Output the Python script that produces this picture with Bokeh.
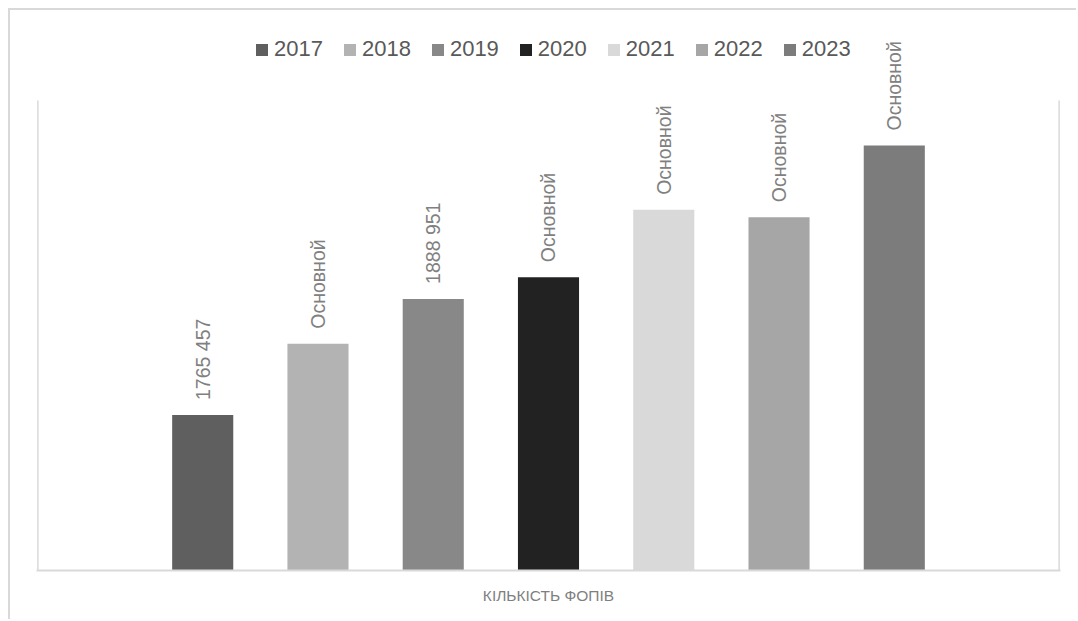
import math
from bokeh.plotting import figure
from bokeh.core.properties import value
from bokeh.models import (Range1d, FixedTicker, Legend, LegendItem,
                          LabelSet, ColumnDataSource)
from bokeh.embed import file_html
from bokeh.resources import INLINE

# ---- data ----
years = [2017, 2018, 2019, 2020, 2021, 2022, 2023]
year_labels = ["2017", "2018", "2019", "2020", "2021", "2022", "2023"]
values = [1765457, 1841200, 1888951, 1912000, 1983700, 1975800, 2052100]
label_texts = ["1765 457", "Основной", "1888 951", "Основной", "Основной", "Основной", "Основной"]
colors = ["#5f5f5f", "#b3b3b3", "#888888", "#222222", "#d9d9d9", "#a6a6a6", "#7c7c7c"]
axis_title = "КІЛЬКІСТЬ ФОПІВ"
y_min, y_max = 1600000, 2100000

# ---- layout helpers (style only) ----
side = 1.43          # category padding in bar-slot units on each side
x_lo, x_hi = years[0] - side, years[-1] + side
pad = 0.012
plot_px, top_px = 470, 90   # plot-area height and space above it, in px
y_end = y_max + (y_max - y_min) * top_px / plot_px

src = ColumnDataSource(dict(x=years, top=values, label=label_texts, color=colors, year=year_labels))

p = figure(width=1068, height=611, output_backend="svg", toolbar_location=None,
           x_range=Range1d(x_lo - pad, x_hi + pad),
           y_range=Range1d(y_min, y_end),
           min_border_left=26, min_border_right=18, min_border_top=0, min_border_bottom=51)
p.styles = {"margin-left": "8px", "margin-top": "8px",
            "border-left": "2px solid #d9d9d9", "border-top": "2px solid #d9d9d9"}
p.grid.visible = False
p.outline_line_color = None
p.background_fill_color = "white"
p.border_fill_color = "white"
p.yaxis.visible = False

ax = p.xaxis[0]
ax.ticker = FixedTicker(ticks=[])
ax.major_tick_line_color = None
ax.minor_tick_line_color = None
ax.major_label_text_font_size = "0px"
ax.major_label_standoff = 0
ax.axis_line_color = "#d9d9d9"
ax.axis_line_width = 2
ax.axis_label = axis_title
ax.axis_label_text_font = "Liberation Sans"
ax.axis_label_text_font_size = "15.5px"
ax.axis_label_text_font_style = "normal"
ax.axis_label_text_color = "#7f7f7f"
ax.axis_label_standoff = 16

# plot-area side lines
p.segment(x0=[x_lo, x_hi], y0=[y_min, y_min], x1=[x_lo, x_hi], y1=[y_max, y_max],
          line_color="#d9d9d9", line_width=1.5)

r = p.vbar(x="x", top="top", bottom=y_min, width=0.53, color="color", source=src, line_color=None)

labels = LabelSet(x="x", y="top", text="label", source=src, angle=math.pi / 2,
                  text_align="left", text_baseline="middle", y_offset=15,
                  text_font=value("Liberation Sans"), text_font_size="19.5px",
                  text_color="#808080")
p.add_layout(labels)

items = [LegendItem(label=year_labels[i], renderers=[r], index=i) for i in range(len(years))]
legend = Legend(items=items, orientation="horizontal", location=(218, 508),
                glyph_width=15, glyph_height=15, label_standoff=5, spacing=19,
                padding=0, margin=0, border_line_color=None, background_fill_alpha=0,
                label_text_font="Liberation Sans", label_text_font_size="22px",
                label_text_color="#595959")
p.add_layout(legend, "center")

open("out.html", "w").write(file_html(p, INLINE))
